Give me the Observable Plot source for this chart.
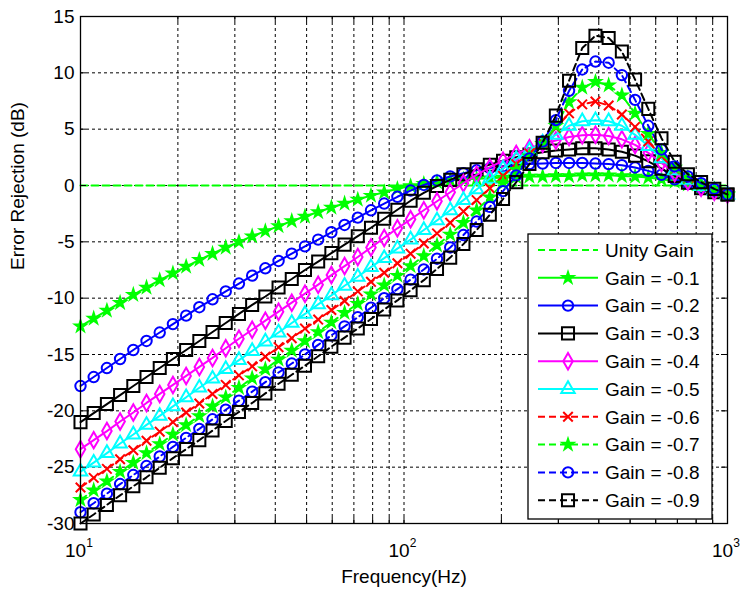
<!DOCTYPE html>
<html><head><meta charset="utf-8">
<script src="https://cdn.jsdelivr.net/npm/d3@7"></script>
<script src="https://cdn.jsdelivr.net/npm/@observablehq/plot@0.6"></script>
<style>
html,body{margin:0;padding:0;background:#fff;}
#chart{width:741px;height:592px;}
</style></head>
<body><div id="chart"></div>
<script>
// ---- data ----
const freq = [10, 10.985, 12.068, 13.257, 14.563, 15.999, 17.575, 19.307, 21.210, 23.300,
  25.595, 28.117, 30.888, 33.932, 37.276, 40.949, 44.984, 49.417, 54.287, 59.636,
  65.513, 71.969, 79.060, 86.851, 95.410, 104.81, 115.14, 126.49, 138.95, 152.64,
  167.68, 184.21, 202.36, 222.30, 244.21, 268.27, 294.71, 323.75, 355.65, 390.70,
  429.19, 471.49, 517.95, 568.99, 625.06, 686.65, 754.31, 828.64, 910.30, 1000];

const unityGain = [0,0,0,0,0,0,0,0,0,0, 0,0,0,0,0,0,0,0,0,0, 0,0,0,0,0,0,0,0,0,0,
  0,0,0,0,0,0,0,0,0,0, 0,0,0,0,0,0,0,0,0,0];
const gain01 = [-12.5,-11.8,-11.1,-10.4,-9.7,-9.05,-8.4,-7.8,-7.2,-6.6,
  -6.05,-5.5,-5.0,-4.5,-4.05,-3.6,-3.15,-2.75,-2.35,-1.95,
  -1.6,-1.25,-0.9,-0.6,-0.3,-0.05,0.15,0.3,0.45,0.55,
  0.6,0.65,0.7,0.75,0.8,0.8,0.85,0.85,0.9,0.9,
  0.9,0.85,0.8,0.7,0.55,0.35,0.1,-0.2,-0.5,-0.8];
const gain02 = [-17.8,-17.0,-16.2,-15.4,-14.6,-13.8,-13.05,-12.3,-11.55,-10.8,
  -10.1,-9.4,-8.7,-8.0,-7.35,-6.7,-6.05,-5.4,-4.8,-4.15,
  -3.5,-2.85,-2.2,-1.6,-1.0,-0.45,0.05,0.45,0.8,1.1,
  1.35,1.55,1.7,1.8,1.9,1.95,2.0,2.0,2.0,1.95,
  1.9,1.8,1.6,1.3,0.95,0.55,0.15,-0.2,-0.55,-0.8];
const gain03 = [-21.0,-20.2,-19.4,-18.6,-17.8,-17.0,-16.2,-15.4,-14.6,-13.8,
  -13.0,-12.2,-11.4,-10.6,-9.85,-9.05,-8.3,-7.5,-6.75,-6.0,
  -5.25,-4.5,-3.75,-2.95,-2.15,-1.35,-0.65,-0.05,0.5,1.0,
  1.45,1.85,2.2,2.5,2.75,2.95,3.1,3.2,3.3,3.3,
  3.2,3.0,2.65,2.15,1.5,0.85,0.25,-0.25,-0.6,-0.8];
const gain04 = [-23.4,-22.6,-21.8,-20.95,-20.15,-19.3,-18.5,-17.7,-16.9,-16.1,
  -15.3,-14.45,-13.6,-12.8,-12.0,-11.2,-10.4,-9.6,-8.8,-7.95,
  -7.15,-6.35,-5.5,-4.65,-3.8,-3.0,-2.2,-1.4,-0.6,0.2,
  0.95,1.6,2.2,2.8,3.3,3.7,4.0,4.3,4.45,4.5,
  4.4,4.1,3.6,2.9,2.0,1.1,0.35,-0.2,-0.55,-0.8];
const gain05 = [-25.4,-24.6,-23.75,-22.9,-22.1,-21.25,-20.45,-19.6,-18.8,-17.95,
  -17.15,-16.3,-15.5,-14.7,-13.85,-13.05,-12.2,-11.4,-10.55,-9.75,
  -8.9,-8.1,-7.25,-6.45,-5.6,-4.8,-3.95,-3.1,-2.2,-1.3,
  -0.35,0.6,1.5,2.35,3.1,3.8,4.5,5.3,5.7,5.8,
  5.7,5.3,4.5,3.5,2.4,1.35,0.5,-0.05,-0.45,-0.8];
const gain06 = [-26.8,-25.95,-25.15,-24.3,-23.5,-22.65,-21.85,-21.0,-20.15,-19.35,
  -18.5,-17.7,-16.85,-16.05,-15.2,-14.35,-13.55,-12.7,-11.9,-11.05,
  -10.25,-9.4,-8.55,-7.75,-6.9,-6.05,-5.15,-4.25,-3.3,-2.3,
  -1.3,-0.25,0.85,1.9,2.85,3.8,5.1,6.4,7.2,7.45,
  7.1,6.3,5.2,3.9,2.6,1.45,0.6,0.05,-0.4,-0.8];
const gain07 = [-27.9,-27.05,-26.25,-25.4,-24.6,-23.75,-22.95,-22.1,-21.25,-20.45,
  -19.6,-18.8,-17.95,-17.1,-16.3,-15.45,-14.65,-13.8,-13.0,-12.15,
  -11.3,-10.5,-9.65,-8.85,-8.0,-7.15,-6.25,-5.3,-4.35,-3.3,
  -2.2,-1.05,0.2,1.4,2.6,3.7,5.3,7.4,8.7,9.2,
  8.9,8.0,6.4,4.6,2.9,1.6,0.7,0.1,-0.35,-0.8];
const gain08 = [-29.0,-28.2,-27.35,-26.5,-25.7,-24.9,-24.05,-23.2,-22.4,-21.6,
  -20.75,-19.9,-19.1,-18.3,-17.45,-16.6,-15.8,-15.0,-14.15,-13.3,
  -12.5,-11.7,-10.85,-10.0,-9.2,-8.35,-7.45,-6.5,-5.5,-4.4,
  -3.2,-1.9,-0.5,0.9,2.4,3.9,5.8,8.4,10.3,11.0,
  10.9,9.8,7.6,5.3,3.2,1.7,0.8,0.2,-0.3,-0.8];
const gain09 = [-30.0,-29.2,-28.35,-27.5,-26.7,-25.9,-25.05,-24.2,-23.4,-22.6,
  -21.75,-20.9,-20.1,-19.3,-18.45,-17.6,-16.8,-16.0,-15.15,-14.3,
  -13.5,-12.7,-11.85,-11.0,-10.2,-9.3,-8.4,-7.4,-6.4,-5.2,
  -3.95,-2.6,-1.2,0.3,1.9,3.8,6.2,9.3,12.2,13.3,
  13.1,11.9,9.4,6.8,4.2,2.1,1.0,0.3,-0.3,-0.8];

const seriesNames = ["Unity Gain","Gain = -0.1","Gain = -0.2","Gain = -0.3","Gain = -0.4",
  "Gain = -0.5","Gain = -0.6","Gain = -0.7","Gain = -0.8","Gain = -0.9"];
const seriesValues = [unityGain, gain01, gain02, gain03, gain04, gain05, gain06, gain07, gain08, gain09];

const yTicks = [15, 10, 5, 0, -5, -10, -15, -20, -25, -30];
const xMajor = [10, 100, 1000];
const xMajorBase = ["10", "10", "10"];
const xMajorExp = ["1", "2", "3"];
const xMinor = [20,30,40,50,60,70,80,90,200,300,400,500,600,700,800,900];
const xLabel = "Frequency(Hz)";
const yLabel = "Error Rejection (dB)";

// ---- styles (kept separate from data) ----
const styles = [
  {color:"#00ff00", dash:"7,4", symbol:null},
  {color:"#00ff00", dash:null, symbol:"star", fill:true, r:3.4},
  {color:"#0000ff", dash:null, symbol:"circle", fill:false, r:5.2},
  {color:"#000000", dash:null, symbol:"square", fill:false, r:6.8},
  {color:"#ff00ff", dash:null, symbol:"diamond", fill:false, r:5},
  {color:"#00ffff", dash:null, symbol:"triangle", fill:false, r:5},
  {color:"#ff0000", dash:"7,4", symbol:"times", fill:false, r:4.4},
  {color:"#00ff00", dash:"7,4", symbol:"star", fill:true, r:3.4},
  {color:"#0000ff", dash:"7,4", symbol:"circle", fill:false, r:5.2},
  {color:"#000000", dash:"7,4", symbol:"square", fill:false, r:6.8}
];

const W = 741, H = 592, mL = 80, mR = 14, mT = 16, mB = 69;
const plotW = W - mL - mR, plotH = H - mT - mB;
const font = "'Liberation Sans', Arial, Helvetica, sans-serif";
const fs = 19;

const seriesMarks = [];
seriesValues.forEach((vals, i) => {
  const st = styles[i];
  const rows = freq.map((f, k) => ({f, v: vals[k]}));
  seriesMarks.push(Plot.line(rows, {x: "f", y: "v", stroke: st.color, strokeWidth: 2,
    strokeDasharray: st.dash || undefined}));
  if (st.symbol) {
    seriesMarks.push(Plot.dot(rows, {x: "f", y: "v", symbol: st.symbol, r: st.r,
      stroke: st.color, strokeWidth: 2, fill: st.fill ? st.color : "none"}));
  }
});

const xAllTicks = [...xMajor, ...xMinor];
const xGrid = [...xMinor, 100];
const yGrid = yTicks.filter(d => d > -30 && d < 15);

const chart = Plot.plot({
  width: W, height: H,
  marginLeft: mL, marginRight: mR, marginTop: mT, marginBottom: mB,
  style: {fontFamily: font, fontSize: fs + "px", background: "#fff", color: "#000", overflow: "visible"},
  x: {type: "log", domain: [10, 1000], axis: null},
  y: {domain: [-30, 15], axis: null},
  marks: [
    Plot.ruleX(xGrid, {x: d => d, stroke: "#000", strokeWidth: 1, strokeDasharray: "3,3"}),
    Plot.ruleY(yGrid, {y: d => d, stroke: "#000", strokeWidth: 1, strokeDasharray: "3,3"}),
    ...seriesMarks,
    Plot.frame({stroke: "#000", strokeWidth: 1.3}),
    Plot.tickX(xAllTicks, {x: d => d, insetTop: plotH - 6, stroke: "#000"}),
    Plot.tickX(xAllTicks, {x: d => d, insetBottom: plotH - 6, stroke: "#000"}),
    Plot.tickY(yTicks, {y: d => d, insetRight: plotW - 6, stroke: "#000"}),
    Plot.tickY(yTicks, {y: d => d, insetLeft: plotW - 6, stroke: "#000"}),
    Plot.text(yTicks, {y: d => d, frameAnchor: "left", dx: -6, textAnchor: "end", text: d => String(d), fontSize: fs}),
    Plot.text(xMajor, {x: d => d, frameAnchor: "bottom", dy: 33, dx: -5, text: (d, i) => xMajorBase[i], fontSize: fs}),
    Plot.text(xMajor, {x: d => d, frameAnchor: "bottom", dy: 23, dx: 9, text: (d, i) => xMajorExp[i], fontSize: 12}),
    Plot.text([xLabel], {frameAnchor: "bottom", dy: 59, text: d => d, fontSize: fs}),
    Plot.text([yLabel], {frameAnchor: "left", dx: -63, rotate: -90, text: d => d, fontSize: fs})
  ]
});
document.getElementById("chart").appendChild(chart);

// ---- legend ----
const svg = d3.select(chart.tagName.toLowerCase() === "svg" ? chart : chart.querySelector("svg"));
const lg = svg.append("g").attr("class", "legend").attr("text-anchor", "start");
const lx = 528, ly = 234, lw = 184, lh = 285, rowH = 27.8, row0 = 250;
lg.append("rect").attr("x", lx).attr("y", ly).attr("width", lw).attr("height", lh)
  .attr("fill", "#fff").attr("stroke", "#000").attr("stroke-width", 1.3);
const symMap = {circle: d3.symbolCircle, square: d3.symbolSquare, diamond: d3.symbolDiamond,
  triangle: d3.symbolTriangle, times: d3.symbolTimes, star: d3.symbolStar};
seriesNames.forEach((name, i) => {
  const st = styles[i];
  const y = row0 + i * rowH;
  lg.append("line").attr("x1", 538).attr("x2", 598).attr("y1", y).attr("y2", y)
    .attr("stroke", st.color).attr("stroke-width", 2)
    .attr("stroke-dasharray", st.dash || null);
  if (st.symbol) {
    lg.append("path").attr("d", d3.symbol(symMap[st.symbol], Math.PI * st.r * st.r)())
      .attr("transform", `translate(568,${y})`)
      .attr("fill", st.fill ? st.color : "none").attr("stroke", st.color).attr("stroke-width", 2);
  }
  lg.append("text").attr("x", 605).attr("y", y).attr("dy", "0.36em")
    .attr("text-anchor", "start")
    .attr("font-family", font).attr("font-size", fs).attr("fill", "#000").text(name);
});
</script>
</body></html>
